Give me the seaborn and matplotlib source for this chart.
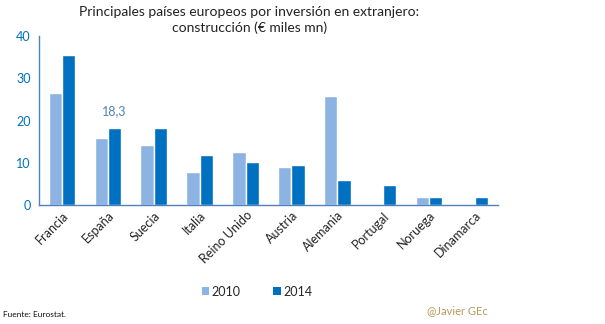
import matplotlib
matplotlib.use("Agg")
import matplotlib.pyplot as plt
import seaborn as sns
import pandas as pd
from matplotlib.patches import Patch

countries = ["Francia", "España", "Suecia", "Italia", "Reino Unido",
             "Austria", "Alemania", "Portugal", "Noruega", "Dinamarca"]
values_2010 = [26.5, 15.9, 14.2, 7.8, 12.6, 9.0, 25.7, 0.0, 1.9, 0.0]
values_2014 = [35.6, 18.3, 18.3, 11.8, 10.2, 9.5, 5.9, 4.8, 1.9, 1.9]
years = ["2010", "2014"]
yticks = [0, 10, 20, 30, 40]

sns.set_theme(style="white")
plt.rcParams["font.family"] = ["Lato", "DejaVu Sans"]

df = pd.DataFrame({
    "país": countries * 2,
    "año": [years[0]] * len(countries) + [years[1]] * len(countries),
    "valor": values_2010 + values_2014,
})

light = "#8db3e2"
dark = "#0070c0"
axis_blue = "#4f81bd"

fig = plt.figure(figsize=(6.05, 3.24), dpi=100)
ax = fig.add_axes([0.0645, 0.367, 0.7585, 0.522])
sns.barplot(data=df, x="país", y="valor", hue="año", palette=[light, dark],
            width=0.58, saturation=1, ax=ax, legend=False)

ax.set_ylim(0, 40)
ax.set_xlim(-0.5, len(countries) - 0.5)
ax.set_yticks(yticks)
ax.set_yticklabels([str(t) for t in yticks], color=dark, fontsize=9)
ax.set_xlabel("")
ax.set_ylabel("")
ax.tick_params(axis="both", length=0, pad=6)
ax.tick_params(axis="x", pad=3)
for lab in ax.get_xticklabels():
    lab.set_rotation(45)
    lab.set_ha("right")
    lab.set_rotation_mode("anchor")
    lab.set_fontsize(9)
    lab.set_color("#222222")

for side in ["top", "right"]:
    ax.spines[side].set_visible(False)
for side in ["left", "bottom"]:
    ax.spines[side].set_color(axis_blue)
    ax.spines[side].set_linewidth(1.0)

# value label over the Spanish 2014 bar
esp = countries.index("España")
ax.text(esp + 0.145, values_2014[esp] + 2.4, f"{values_2014[esp]:.1f}".replace(".", ","),
        ha="center", va="bottom", color=axis_blue, fontsize=9)

fig.text(0.412, 0.982,
         "Principales países europeos por inversión en extranjero:\nconstrucción (€ miles mn)",
         ha="center", va="top", fontsize=10, color="#222222", linespacing=1.3)

handles = [Patch(facecolor=light, edgecolor="none"), Patch(facecolor=dark, edgecolor="none")]
fig.legend(handles, years, loc="center", bbox_to_anchor=(0.425, 0.1), ncol=2,
           frameon=False, fontsize=9, handlelength=0.6, handleheight=0.6,
           handletextpad=0.2, columnspacing=2.6)

fig.text(0.005, 0.03, "Fuente: Eurostat.", fontsize=6, color="#111111", ha="left", va="center")
fig.text(0.705, 0.04, "@Javier GEc", fontsize=8, color="#b89a5c", ha="left", va="center")

fig.savefig("out.png", dpi=100)
